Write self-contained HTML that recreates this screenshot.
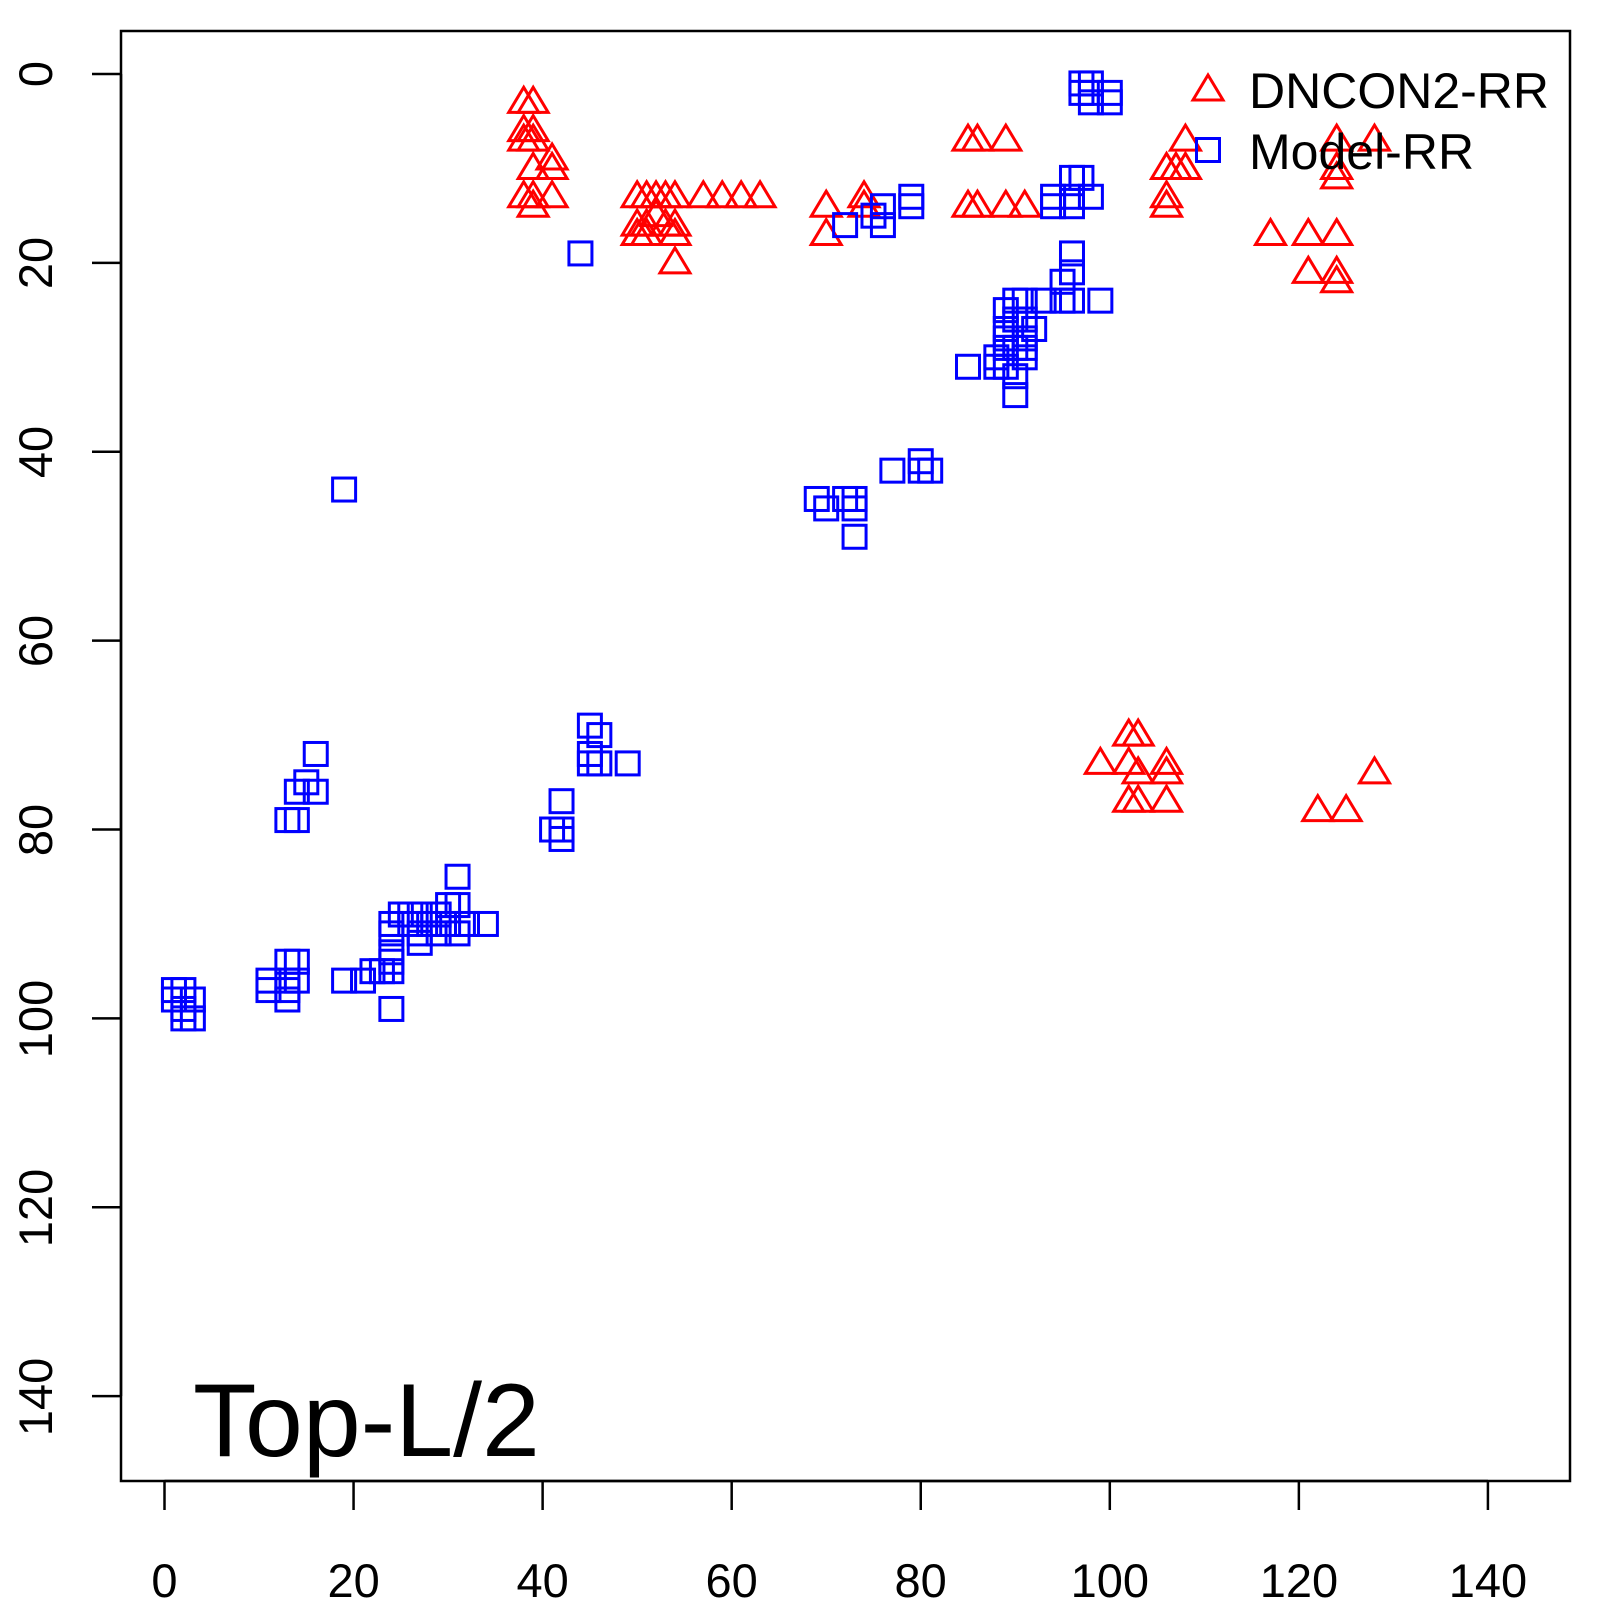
<!DOCTYPE html>
<html><head><meta charset="utf-8"><style>html,body{margin:0;padding:0;background:#fff}svg{display:block}</style></head>
<body>
<svg id="s" width="1600" height="1600" viewBox="0 0 1600 1600" xmlns="http://www.w3.org/2000/svg" font-family="Liberation Sans, Arial, sans-serif">
<rect x="0" y="0" width="1600" height="1600" fill="#fff"/>
<rect x="121" y="31" width="1449" height="1450" fill="none" stroke="#000" stroke-width="2.5"/>
<g stroke="#000" stroke-width="2.5" id="ticks"></g>
<g font-size="47" fill="#000" text-anchor="middle">
<text x="164.5" y="1597">0</text><text x="353.6" y="1597">20</text><text x="542.6" y="1597">40</text><text x="731.7" y="1597">60</text><text x="920.7" y="1597">80</text><text x="1109.8" y="1597">100</text><text x="1298.9" y="1597">120</text><text x="1487.9" y="1597">140</text>
<text transform="translate(52,74) rotate(-90)">0</text>
<text transform="translate(52,263) rotate(-90)">20</text>
<text transform="translate(52,452) rotate(-90)">40</text>
<text transform="translate(52,641) rotate(-90)">60</text>
<text transform="translate(52,830) rotate(-90)">80</text>
<text transform="translate(52,1019) rotate(-90)">100</text>
<text transform="translate(52,1208) rotate(-90)">120</text>
<text transform="translate(52,1397) rotate(-90)">140</text>
</g>
<g id="pts" fill="none" stroke-width="3"></g>
<text x="193" y="1456" font-size="104" fill="#000">Top-L/2</text>
<text x="1249" y="108" font-size="50" fill="#000">DNCON2-RR</text>
<text x="1249" y="169" font-size="50" fill="#000">Model-RR</text>
</svg>
<script>
var X0=164.5,SX=9.453,Y0=74,SY=9.444;
var ns="http://www.w3.org/2000/svg";
var t=document.getElementById('ticks');
function ln(a,b,c,d){var l=document.createElementNS(ns,'line');l.setAttribute('x1',a);l.setAttribute('y1',b);l.setAttribute('x2',c);l.setAttribute('y2',d);t.appendChild(l);}
for(var v=0;v<=140;v+=20){var x=X0+v*SX;ln(x,1481,x,1510);var y=Y0+v*SY;ln(121,y,92,y);}
ln(X0,1481,X0+140*SX,1481);ln(121,Y0,121,Y0+140*SY);
var g=document.getElementById('pts');
function tri(px,py){var p=document.createElementNS(ns,'polygon');var h=25,w=15;p.setAttribute('points',(px-w)+','+(py+h*0.4)+' '+(px+w)+','+(py+h*0.4)+' '+px+','+(py-h*0.6));p.setAttribute('stroke','#ff0000');g.appendChild(p);}
function sq(px,py){var r=document.createElementNS(ns,'rect');r.setAttribute('x',px-11.5);r.setAttribute('y',py-11.5);r.setAttribute('width',23);r.setAttribute('height',23);r.setAttribute('stroke','#0000ff');g.appendChild(r);}
var R=[[38,3],[39,3],[38,6],[39,6],[38,7],[39,7],[39,10],[41,9],[41,10],[38,13],[39,13],[41,13],[39,14],
[50,13],[51,13],[52,13],[53,13],[54,13],[57,13],[59,13],[61,13],[63,13],[50,16],[51,16],[53,16],[54,16],[50,17],[51,17],[54,17],[54,20],[52,15],
[70,14],[70,17],[74,13],[74,14],[85,7],[86,7],[89,7],[85,14],[86,14],[89,14],[91,14],
[106,10],[106,13],[106,14],[107,10],[108,7],[108,10],[124,7],[124,10],[124,11],[128,7],[117,17],[121,17],[124,17],[121,21],[124,21],[124,22],
[99,73],[102,70],[103,70],[102,73],[103,74],[102,77],[103,77],[106,73],[106,74],[106,77],[122,78],[125,78],[128,74]];
var B=[[98,1],[97,1],[98,2],[97,2],[100,2],[98,3],[100,3],[44,19],[72,16],[75,15],[76,14],[76,16],[79,13],[79,14],[94,13],[94,14],[96,11],[97,11],[96,13],[98,13],[96,14],
[96,19],[96,21],[95,22],[95,24],[96,24],[99,24],[90,24],[91,24],[93,24],[89,25],[90,26],[91,26],[89,27],[92,27],[89,29],[90,29],[91,29],[91,30],[88,30],[89,31],[85,31],[88,31],[90,32],[90,34],[89,28],[91,28],
[80,41],[80,42],[81,42],[77,42],[69,45],[70,46],[72,45],[73,45],[73,46],[73,49],[19,44],
[45,69],[46,70],[45,72],[45,73],[46,73],[49,73],[42,77],[41,80],[42,80],[42,81],
[16,72],[15,75],[14,76],[16,76],[13,79],[14,79],
[31,85],[30,88],[31,88],[29,89],[25,89],[26,89],[27,89],[24,90],[26,90],[28,90],[30,90],[32,90],[34,90],[24,91],[27,91],[29,91],[31,91],[27,92],[24,93],[24,94],[23,95],[22,95],[24,95],[21,96],[19,96],[13,94],[14,94],[13,96],[14,96],[11,96],[11,97],[13,97],[13,98],[24,99],
[1,97],[2,97],[1,98],[3,98],[2,99],[2,100],[3,100]];
R.forEach(function(p){tri(X0+p[0]*SX,Y0+p[1]*SY);});
B.forEach(function(p){sq(X0+p[0]*SX,Y0+p[1]*SY);});
tri(1208,90);sq(1208,150);
</script>
</body></html>
